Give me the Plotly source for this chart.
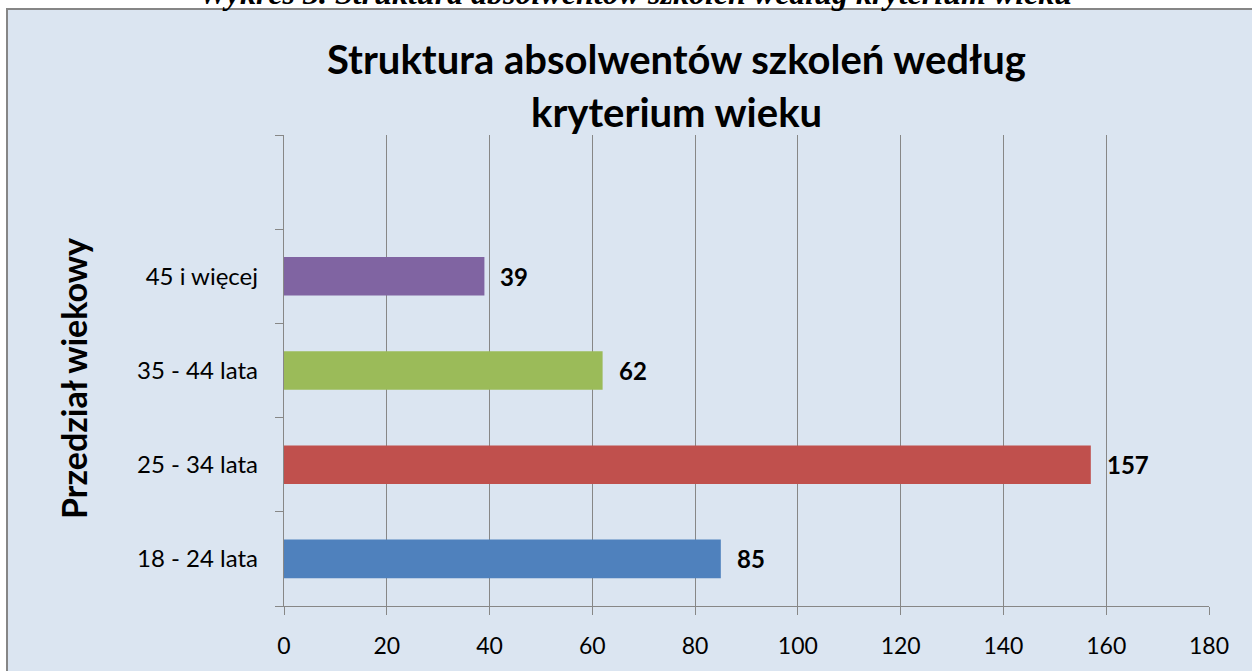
import plotly.graph_objects as go

# Age brackets (bottom to top) and number of graduates in each
age_groups = ["18 - 24 lata", "25 - 34 lata", "35 - 44 lata", "45 i więcej"]
graduates = [85, 157, 62, 39]
bar_colors = ["#4F81BD", "#C0504D", "#9BBB59", "#8064A2"]

# Spare slot left empty above the last bracket
spare_slot = " "

x_ticks = list(range(0, 181, 20))

W, H = 1252, 671
L, R, T, B = 284, 43, 135, 65
PW, PH = W - L - R, H - T - B

BG = "#DBE5F1"
GRID = "#878787"
FONT = "Lato"


def px_x(p):
    return (p - L) / PW


def px_y(p):
    return (H - B - p) / PH


fig = go.Figure()
fig.add_trace(go.Bar(
    y=age_groups + [spare_slot],
    x=graduates + [None],
    orientation="h",
    width=0.41,
    marker=dict(color=bar_colors + ["rgba(0,0,0,0)"], line=dict(width=0)),
    hoverinfo="skip",
    showlegend=False,
))

annotations = []
# value labels beside each bar
for g, v in zip(age_groups, graduates):
    annotations.append(dict(
        x=v, y=g, xref="x", yref="y", xanchor="left", yanchor="middle",
        xshift=14, text=f"<b>{v}</b>", showarrow=False,
        font=dict(family=FONT, size=24, color="black"),
    ))

# chart title in two lines
annotations.append(dict(
    x=px_x(676), y=px_y(59), xref="paper", yref="paper",
    xanchor="center", yanchor="middle", showarrow=False,
    text="<b>Struktura absolwentów szkoleń według</b>",
    font=dict(family=FONT, size=40, color="black"),
))
annotations.append(dict(
    x=px_x(676), y=px_y(112), xref="paper", yref="paper",
    xanchor="center", yanchor="middle", showarrow=False,
    text="<b>kryterium wieku</b>",
    font=dict(family=FONT, size=40, color="black"),
))

# vertical axis title
annotations.append(dict(
    x=px_x(73), y=px_y(379), xref="paper", yref="paper",
    xanchor="center", yanchor="middle", showarrow=False, textangle=-90,
    text="<b>Przedział wiekowy</b>",
    font=dict(family=FONT, size=34, color="black"),
))

# document caption above the chart frame
annotations.append(dict(
    x=px_x(635), y=px_y(13), xref="paper", yref="paper",
    xanchor="center", yanchor="bottom", showarrow=False,
    text="<b><i>Wykres 3. Struktura absolwentów szkoleń według kryterium wieku</i></b>",
    font=dict(family="Liberation Serif", size=32, color="black"),
))

fig.update_layout(
    width=W, height=H, autosize=False,
    margin=dict(l=L, r=R, t=T, b=B, pad=0),
    paper_bgcolor="white",
    plot_bgcolor=BG,
    bargap=0.59,
    annotations=annotations,
    shapes=[dict(
        type="rect", xref="paper", yref="paper", layer="below",
        x0=px_x(7), x1=px_x(W + 20), y0=px_y(H + 20), y1=px_y(9),
        fillcolor=BG, line=dict(color="#868686", width=2),
    )],
    font=dict(family=FONT, color="black"),
)

fig.update_xaxes(
    range=[0, 180], tickvals=x_ticks, ticktext=[str(t) for t in x_ticks],
    showgrid=True, gridcolor=GRID, gridwidth=1.3,
    showline=True, linecolor=GRID, linewidth=1.3,
    ticks="outside", ticklen=8, tickcolor=GRID, tickwidth=1.3,
    zeroline=False, tickfont=dict(family=FONT, size=23, color="black"),
    ticklabelstandoff=11,
)
fig.update_yaxes(
    type="category", categoryorder="array",
    categoryarray=age_groups + [spare_slot],
    range=[-0.5, 4.5], tickson="boundaries",
    showgrid=False, showline=True, linecolor=GRID, linewidth=1.3,
    ticks="outside", ticklen=8, tickcolor=GRID, tickwidth=1.3,
    zeroline=False, tickfont=dict(family=FONT, size=24, color="black"),
    ticklabelstandoff=20,
)

fig.write_html("out.html")
